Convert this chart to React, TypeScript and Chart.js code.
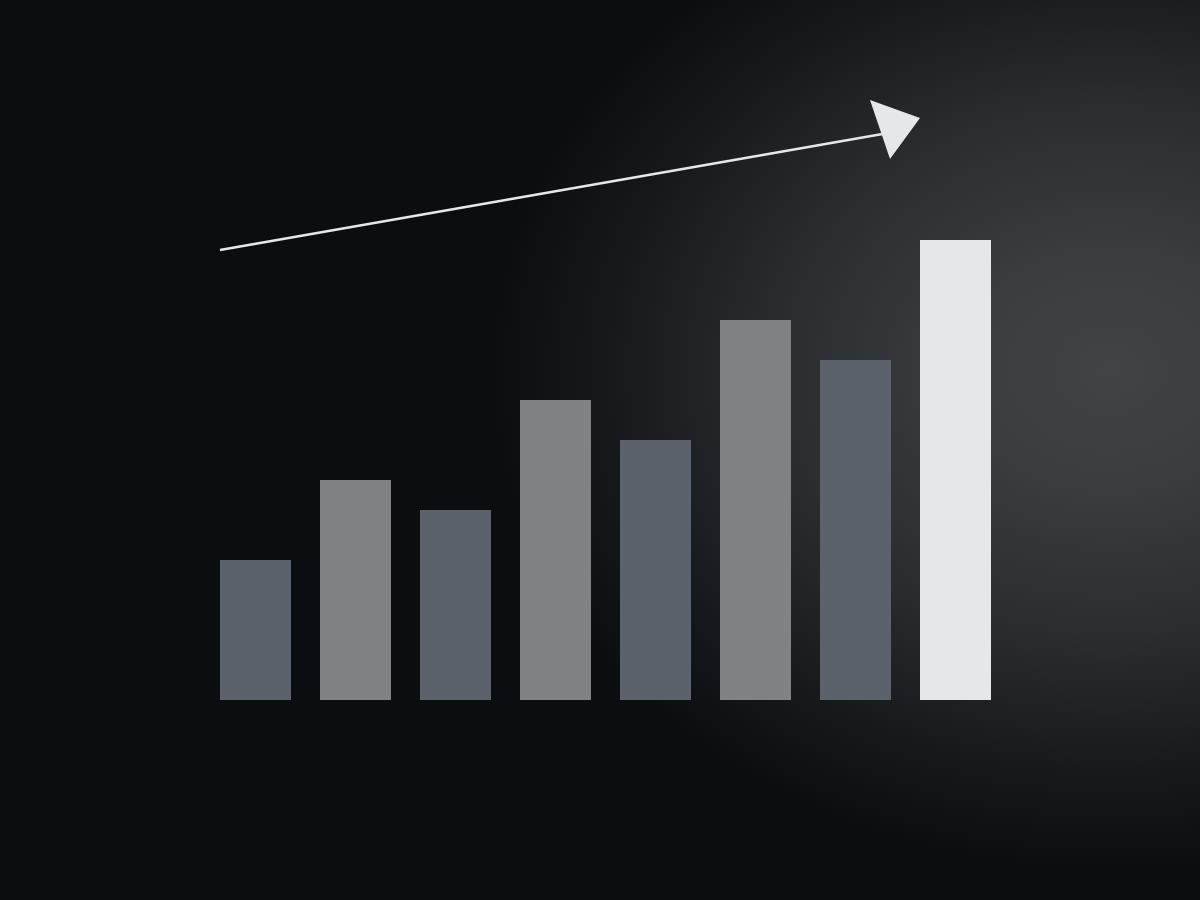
import { useEffect, useRef } from "react"
import { Chart, type ChartConfiguration, type Plugin, registerables } from "chart.js"

Chart.register(...registerables)

const categories = ["1", "2", "3", "4", "5", "6", "7", "8"]
const values = [14, 22, 19, 30, 26, 38, 34, 46]
const barColors = ["#5b626b", "#818284", "#5b626b", "#818284", "#5b626b", "#818284", "#5b626b", "#e6e7e9"]

// trend arrow, in (category index, value) units
const arrowLine = [
  [-0.355, 45],
  [6.27, 56.6],
]
const arrowHead = [
  [6.645, 58.2],
  [6.145, 60],
  [6.345, 54.1],
]

const arrowPlugin: Plugin<"bar"> = {
  id: "trendArrow",
  afterDatasetsDraw(chart) {
    const { ctx, scales } = chart
    const x = scales.x
    const y = scales.y
    ctx.save()
    ctx.strokeStyle = "#e6e7e9"
    ctx.fillStyle = "#e6e7e9"
    ctx.lineWidth = 2.5
    ctx.beginPath()
    ctx.moveTo(x.getPixelForValue(arrowLine[0][0]), y.getPixelForValue(arrowLine[0][1]))
    ctx.lineTo(x.getPixelForValue(arrowLine[1][0]), y.getPixelForValue(arrowLine[1][1]))
    ctx.stroke()
    ctx.beginPath()
    arrowHead.forEach(([i, v], n) => {
      const px = x.getPixelForValue(i)
      const py = y.getPixelForValue(v)
      if (n === 0) ctx.moveTo(px, py)
      else ctx.lineTo(px, py)
    })
    ctx.closePath()
    ctx.fill()
    ctx.restore()
  },
}

export default function App() {
  const chartRef = useRef<HTMLCanvasElement>(null)
  const chartInstanceRef = useRef<Chart<"bar"> | null>(null)

  useEffect(() => {
    if (!chartRef.current) return
    const ctx = chartRef.current.getContext("2d")
    if (!ctx) return

    if (chartInstanceRef.current) {
      chartInstanceRef.current.destroy()
    }

    const config: ChartConfiguration<"bar"> = {
      type: "bar",
      data: {
        labels: categories,
        datasets: [
          {
            data: values,
            backgroundColor: barColors,
            borderWidth: 0,
            barPercentage: 0.71,
            categoryPercentage: 1,
          },
        ],
      },
      options: {
        responsive: false,
        animation: false,
        layout: {
          padding: { left: 205.5, right: 194.5, top: 200, bottom: 200 },
        },
        plugins: {
          legend: { display: false },
          tooltip: { enabled: false },
        },
        scales: {
          x: { display: false },
          y: { display: false, min: 0, max: 50 },
        },
      },
      plugins: [arrowPlugin],
    }

    chartInstanceRef.current = new Chart(ctx, config)

    return () => {
      if (chartInstanceRef.current) {
        chartInstanceRef.current.destroy()
        chartInstanceRef.current = null
      }
    }
  }, [])

  return (
    <div
      style={{
        position: "absolute",
        left: 0,
        top: 0,
        width: 1200,
        height: 900,
        background:
          "radial-gradient(ellipse 620px 500px at 1110px 370px, #404447 0%, #3b3e41 22%, #2b2e31 52%, #17191c 80%, #0b0e11 100%), #0b0e11",
      }}
    >
      <canvas ref={chartRef} width={1200} height={900} style={{ display: "block" }} />
    </div>
  )
}
